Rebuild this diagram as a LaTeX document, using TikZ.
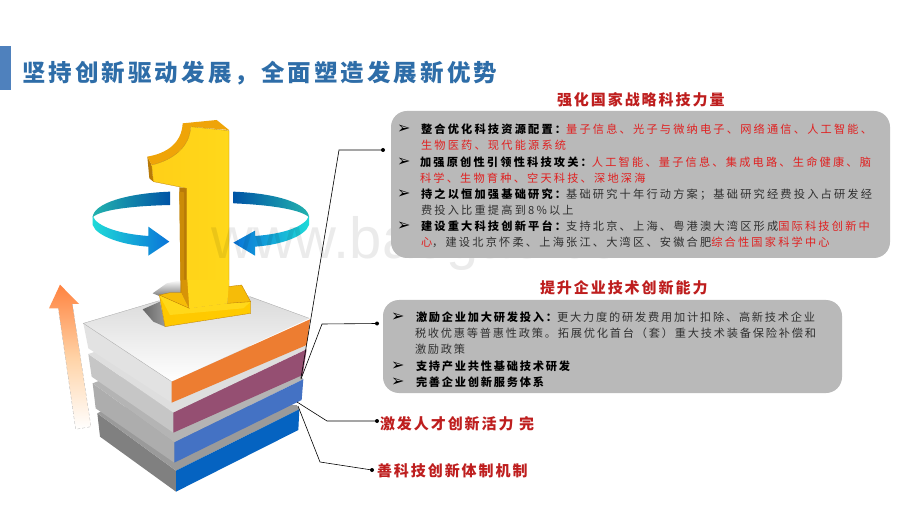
\documentclass[tikz,border=0pt]{standalone}
\usepackage{fontspec}
\setmainfont{Noto Sans CJK SC}
\newfontfamily\bodyfont[LetterSpace=19.6]{Noto Sans CJK SC}
\newfontfamily\bodyfontb[LetterSpace=16]{Noto Sans CJK SC}
\newfontfamily\headfont[LetterSpace=13]{Noto Sans CJK SC}
\newfontfamily\wmfont{Liberation Sans}
\newfontfamily\bulfont{DejaVu Sans}
\definecolor{ttl}{HTML}{2E6DA8}
\definecolor{barc}{HTML}{4F81BD}
\definecolor{dred}{HTML}{BE1E1E}
\definecolor{lred}{HTML}{E02020}
\definecolor{boxg}{HTML}{B9B9B9}
\definecolor{ink}{HTML}{303030}
\definecolor{ygold}{HTML}{FFD81A}
\definecolor{yorange}{HTML}{EFA408}
\definecolor{ydark}{HTML}{B87A08}
\definecolor{yfoot}{HTML}{FFC800}
\definecolor{yfootb}{HTML}{F6BC08}
\definecolor{yfootc}{HTML}{FFCB00}
\definecolor{gA}{HTML}{808080}
\definecolor{gB}{HTML}{9A9A9A}
\definecolor{gC}{HTML}{ADADAD}
\definecolor{gD}{HTML}{B4B4B4}
\definecolor{gE}{HTML}{C6C6C6}
\definecolor{gF}{HTML}{DEDEDE}
\definecolor{gG}{HTML}{E2E2E2}
\definecolor{sblue}{HTML}{0563C1}
\definecolor{smid}{HTML}{4472C4}
\definecolor{spur}{HTML}{954F72}
\definecolor{sora}{HTML}{ED7D31}
\newcommand{\rd}[1]{\textcolor{lred}{#1}}
\newcommand{\bk}[1]{{\bfseries\color{black}#1}}
\tikzset{
  x=1pt,y=-1pt,
  txt/.style={anchor=base west,inner sep=0pt,outer sep=0pt,font=\fontsize{11.2}{13}\bodyfont,text=ink},
  txtb/.style={anchor=base west,inner sep=0pt,outer sep=0pt,font=\fontsize{11.2}{13}\bodyfontb,text=ink},
  bul/.style={anchor=base west,inner sep=0pt,outer sep=0pt,font=\fontsize{16}{16}\bulfont,text=black},
  head/.style={anchor=base west,inner sep=0pt,outer sep=0pt,font=\fontsize{15}{16}\headfont\bfseries,text=dred},
  card/.style={fill=boxg,rounded corners=16pt,draw=none},
  lead/.style={draw=black,line width=.6pt},
  dotc/.style={circle,fill=black,inner sep=0pt,minimum size=4pt}
}
\begin{document}
\begin{tikzpicture}
\useasboundingbox (0,0) rectangle (920,518);
\fill[white] (0,0) rectangle (920,518);
% title
\fill[barc] (0,46) rectangle (11,90);
\node[anchor=base west,inner sep=0,font=\fontsize{23.5}{26}\headfont\bfseries,text=ttl] (title) at (22,81.5) {坚持创新驱动发展，全面塑造发展新优势};

% ------ connectors (behind the stack)
\coordinate (h1) at (383,150);
\coordinate (k1) at (339,150);
\coordinate (s1) at (301,378);
\coordinate (h2) at (377,323.5);
\coordinate (k2) at (322,324);
\coordinate (s2) at (301,379);
\coordinate (h3) at (377,421);
\coordinate (k3) at (327,421);
\coordinate (s3) at (297,402);
\coordinate (h4) at (372,470);
\coordinate (k4) at (320,462);
\coordinate (s4) at (298,406);

% ------ stack, in 3x crop coordinates
\begin{scope}[shift={(30,280)},scale=1/3]
 % arrow
 \path[shade,top color=orange!70!red!75!white,bottom color=white,middle color=orange!35!white]
   (90,14) -- (147,72) -- (127,72) -- (183,440) -- (137,448) -- (85,85) -- (57,85) -- cycle;
 \draw[densely dashed,gray!60,line width=.3pt] (127,72) -- (183,440) -- (137,448) -- (85,85);
 % layer 4
 \fill[gA] (202,400) -- (438,572) -- (438,635) -- (210,470) -- cycle;
 \fill[gB] (202,400) -- (240,380) -- (800,375) -- (808,388) -- (438,572) -- cycle;
 \fill[sblue] (438,572) -- (808,388) -- (805,450) -- (438,635) -- cycle;
 % layer 3
 \fill[gC] (188,310) -- (433,487) -- (433,548) -- (197,385) -- cycle;
 \fill[gD] (188,310) -- (240,290) -- (810,285) -- (820,298) -- (433,487) -- cycle;
 \fill[smid] (433,487) -- (820,298) -- (815,360) -- (433,548) -- cycle;
 % layer 2
 \fill[gE] (175,222) -- (430,398) -- (430,458) -- (185,290) -- cycle;
 \fill[gF] (175,222) -- (240,200) -- (828,197) -- (830,207) -- (430,398) -- cycle;
 \fill[spur] (430,398) -- (830,208) -- (818,285) -- (430,458) -- cycle;
 % layer 1
 \fill[gG] (160,130) -- (425,305) -- (425,368) -- (175,205) -- cycle;
 \path[shade,top color=black!15,bottom color=white] (160,130) -- (388,62) -- (640,42) -- (838,115) -- (425,305) -- cycle;
 \draw[gray!70,line width=.3pt] (425,305) -- (160,130) -- (388,62) (660,50) -- (838,115);
 \fill[sora] (425,305) -- (840,118) -- (830,195) -- (425,368) -- cycle;
 % soft shadows of the numeral
 \path[shade,top color=white,bottom color=black!50] (368,40) -- (410,10) -- (455,0) -- (455,40) -- (388,48) -- cycle;
 \path[shade,left color=black!60,right color=black!40] (338,88) -- (390,65) -- (405,140) -- (370,125) -- cycle;
\end{scope}

% ------ numeral "1"
\begin{scope}[shift={(30,110)},scale=1/3]
 % side of flag
 \fill[ydark] (352,140) -- (365,165) -- (370,215) -- (358,205) -- cycle;
 % top of numeral
 \fill[yorange] (458,40) -- (560,30) -- (597,60) -- (482,50) .. controls (480,110) and (430,150) .. (365,165) -- (352,140) .. controls (410,130) and (455,100) .. (458,40) -- cycle;
 % dark left of stem
 \fill[ydark] (448,232) -- (472,235) -- (472,570) -- (452,550) -- cycle;
 \fill[yorange!85!black] (448,245) -- (462,247) -- (462,560) -- (452,550) -- cycle;
 % front
 \path[shade,left color=ygold!90!orange,right color=ygold,draw=yorange!80!black,line width=.3pt]
   (482,50) -- (597,62) -- (597,530) -- (470,560) -- (470,235) -- (370,215) -- (365,165) .. controls (430,150) and (480,110) .. (482,50) -- cycle;
\end{scope}
\begin{scope}[shift={(30,280)},scale=1/3]
 % foot
 \path[shade,left color=yfoot,right color=yfootc,draw=ydark,line width=.3pt]
   (388,45) -- (478,85) -- (592,70) -- (662,65) -- (662,100) -- (405,140) -- cycle;
 \fill[ygold] (388,45) -- (478,85) -- (592,70) -- (662,65) -- (640,85) -- (420,105) -- cycle;
 \fill[yfootb,draw=ydark,line width=.3pt] (388,45) -- (420,38) -- (455,38) -- (478,85) -- cycle;
 \fill[yfootb,draw=ydark,line width=.3pt] (592,20) -- (635,15) -- (662,65) -- (592,70) -- cycle;
 \fill[yorange!90!black] (455,0) -- (475,0) -- (478,85) -- (455,38) -- cycle;
 \fill[ygold] (472,0) -- (597,0) -- (592,70) -- (478,85) -- cycle;
\end{scope}

% ------ ring arrows
\begin{scope}[shift={(30,110)},scale=1/3]
 \definecolor{rdk}{HTML}{0054A6}
 \definecolor{rtl}{HTML}{22B2AE}
 \definecolor{rcy}{HTML}{1FDAD8}
 \definecolor{rbl}{HTML}{0A74D8}
 % left
 \path[shade,left color=rtl,right color=rdk] (420,245) .. controls (290,250) and (190,280) .. (188,322) .. controls (210,300) and (300,288) .. (420,285) -- cycle;
 \path[shade,left color=rcy,right color=rbl] (188,318) -- (188,345) .. controls (200,380) and (280,405) .. (355,410) -- (355,437) -- (418,395) -- (355,350) -- (355,378) .. controls (270,372) and (200,350) .. (188,318) -- cycle;
 % right
 \path[shade,right color=rtl,left color=rdk] (610,245) .. controls (740,250) and (835,280) .. (837,322) .. controls (815,300) and (730,285) .. (610,280) -- cycle;
 \path[shade,right color=rcy,left color=rbl] (837,318) -- (837,345) .. controls (825,380) and (750,405) .. (675,410) -- (675,437) -- (610,398) -- (675,362) -- (675,378) .. controls (760,372) and (825,350) .. (837,318) -- cycle;
\end{scope}

% watermark
\node[anchor=base west,inner sep=0,font=\fontsize{58}{58}\wmfont,text=black,text opacity=.08] (wm) at (211,259) {www.baogao.com};

% leader lines
\draw[lead] (s1) -- (k1) -- (h1);
\draw[lead] (s2) -- (k2) -- (h2);
\draw[lead] (s3) -- (k3) -- (h3);
\draw[lead] (s4) -- (k4) -- (h4);
\node[dotc] (d1) at (h1) {};
\node[dotc] (d2) at (h2) {};
\node[dotc] (d3) at (h3) {};
\node[dotc] (d4) at (h4) {};

% ------ card 1
\node[head] (t1) at (557,106) {强化国家战略科技力量};
\fill[card] (391,111) rectangle (890,258);
\foreach \n/\yy in {a/134,b/167,c/199,d/231}{\node[bul] (bul\n) at (397,\yy) {➢};}
\node[txt] (l1) at (421,134) {\bk{整合优化科技资源配置：}\rd{量子信息、光子与微纳电子、网络通信、人工智能、}};
\node[txt] (l2) at (421,150) {\rd{生物医药、现代能源系统}};
\node[txt] (l3) at (420,167) {\bk{加强原创性引领性科技攻关：}\rd{人工智能、量子信息、集成电路、生命健康、脑}};
\node[txt] (l4) at (420,183) {\rd{科学、生物育种、空天科技、深地深海}};
\node[txt] (l5) at (421,199) {\bk{持之以恒加强基础研究：}基础研究十年行动方案；基础研究经费投入占研发经};
\node[txt] (l6) at (421,215) {费投入比重提高到8\%以上};
\node[txt] (l7) at (421,231) {\bk{建设重大科技创新平台：}支持北京、上海、粤港澳大湾区形成\rd{国际科技创新中}};
\node[txt] (l8) at (421,247) {\rd{心}，建设北京怀柔、上海张江、大湾区、安徽合肥\rd{综合性国家科学中心}};

% ------ card 2
\node[head] (t2) at (540,293.5) {提升企业技术创新能力};
\fill[card] (383,300) rectangle (842,393);
\foreach \n/\yy in {e/321,f/370,g/386}{\node[bul] (bul\n) at (391,\yy) {➢};}
\node[txtb] (m1) at (416,321) {\bk{激励企业加大研发投入：}更大力度的研发费用加计扣除、高新技术企业};
\node[txtb] (m2) at (415,337) {税收优惠等普惠性政策。拓展优化首台（套）重大技术装备保险补偿和};
\node[txtb] (m3) at (415,353) {激励政策};
\node[txtb] (m4) at (416,370) {\bk{支持产业共性基础技术研发}};
\node[txtb] (m5) at (416,386) {\bk{完善企业创新服务体系}};

% ------ bare labels
\node[head] (t3) at (380,429) {激发人才创新活力 完};
\node[head] (t4) at (377,476) {善科技创新体制机制};
\end{tikzpicture}
\end{document}
